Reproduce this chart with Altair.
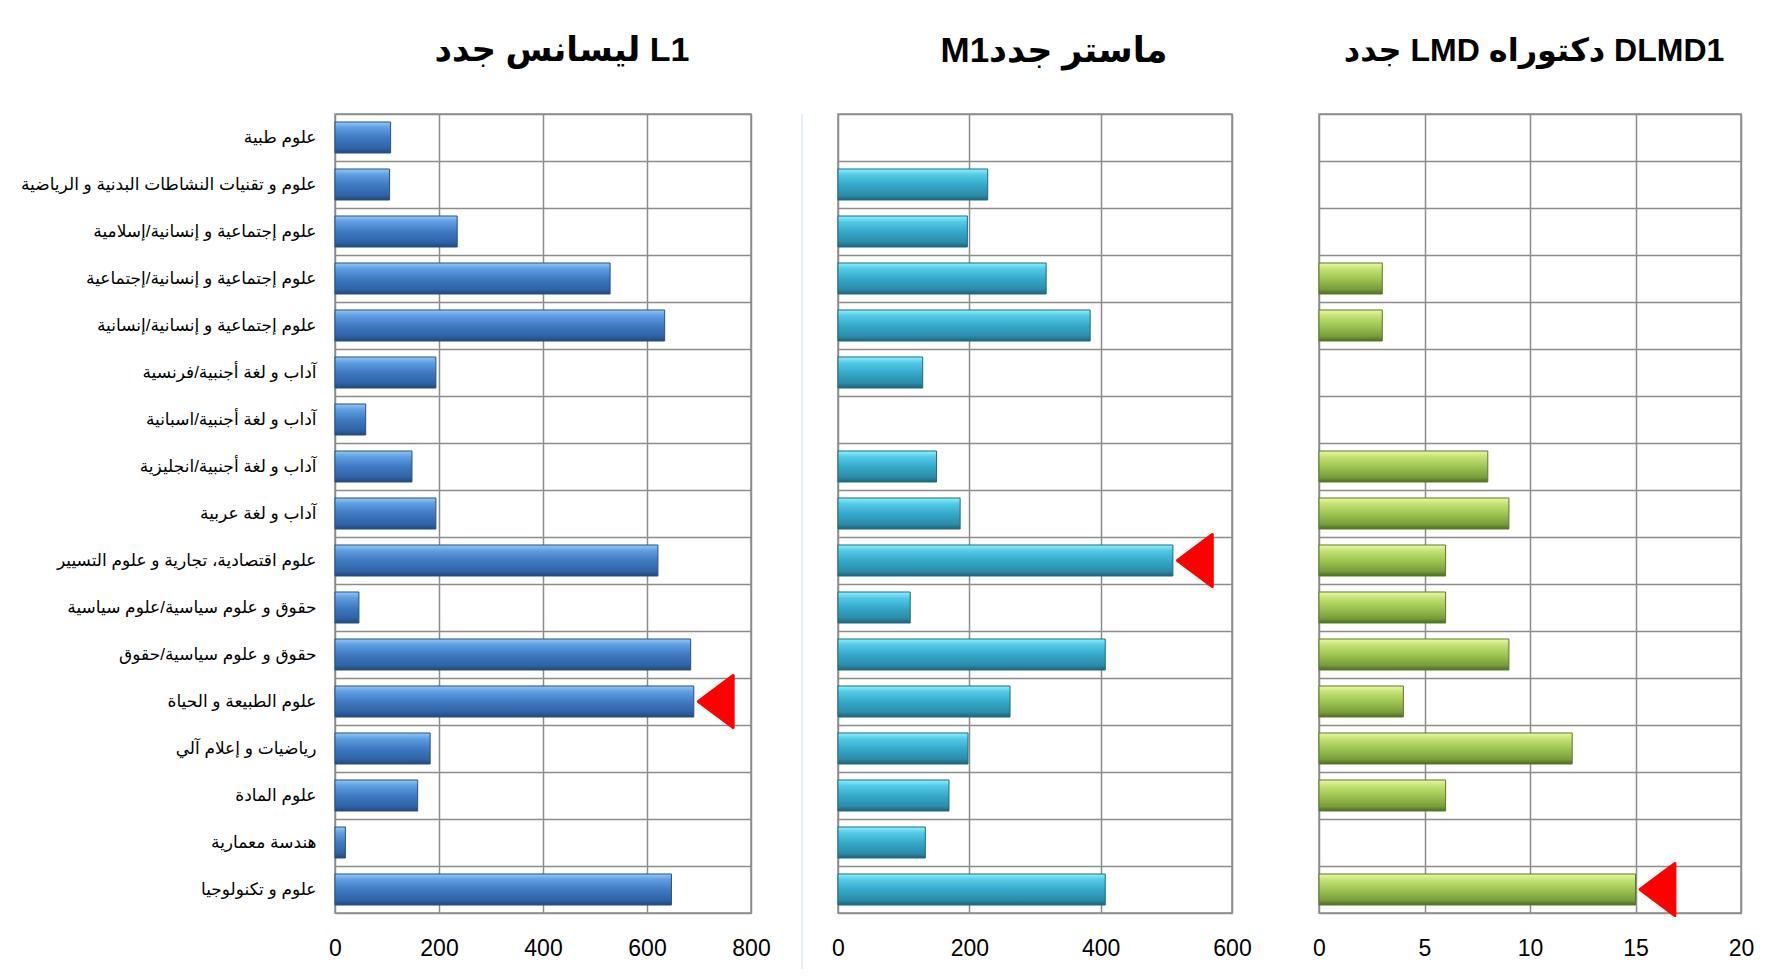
import altair as alt
import pandas as pd

categories = [
    "علوم طبية",
    "علوم و تقنيات النشاطات البدنية و الرياضية",
    "علوم إجتماعية و إنسانية/إسلامية",
    "علوم إجتماعية و إنسانية/إجتماعية",
    "علوم إجتماعية و إنسانية/إنسانية",
    "آداب و لغة أجنبية/فرنسية",
    "آداب و لغة أجنبية/اسبانية",
    "آداب و لغة أجنبية/انجليزية",
    "آداب و لغة عربية",
    "علوم اقتصادية، تجارية و علوم التسيير",
    "حقوق و علوم سياسية/علوم سياسية",
    "حقوق و علوم سياسية/حقوق",
    "علوم الطبيعة و الحياة",
    "رياضيات و إعلام آلي",
    "علوم المادة",
    "هندسة معمارية",
    "علوم و تكنولوجيا",
]
l1_values = [107, 105, 235, 529, 634, 194, 59, 148, 194, 621, 46, 684, 690, 183, 159, 20, 647]
m1_values = [0, 228, 197, 317, 384, 129, 0, 150, 186, 510, 110, 407, 262, 198, 169, 133, 407]
d_values = [0, 0, 0, 3, 3, 0, 0, 8, 9, 6, 6, 9, 4, 12, 6, 0, 15]

titles = ["ليسانس جدد  L1", "M1" + "ماستر جدد", "جدد LMD دكتوراه  DLMD1"]
l1_ticks = [0, 200, 400, 600, 800]
m1_ticks = [0, 200, 400, 600]
d_ticks = [0, 5, 10, 15, 20]
marker_cats = ["علوم الطبيعة و الحياة", "علوم اقتصادية، تجارية و علوم التسيير", "علوم و تكنولوجيا"]
marker_vals = [690, 510, 15]

FONT = "Liberation Sans, DejaVu Sans"
GRID = "#8c8c8c"

blue = alt.Gradient(gradient="linear", x1=0, x2=0, y1=0, y2=1, stops=[
    alt.GradientStop(color="#93c8f6", offset=0),
    alt.GradientStop(color="#5f9fe2", offset=0.18),
    alt.GradientStop(color="#3f7ac2", offset=0.5),
    alt.GradientStop(color="#2f62a5", offset=0.85),
    alt.GradientStop(color="#23477a", offset=1)])
cyan = alt.Gradient(gradient="linear", x1=0, x2=0, y1=0, y2=1, stops=[
    alt.GradientStop(color="#8df2ff", offset=0),
    alt.GradientStop(color="#55cbe8", offset=0.18),
    alt.GradientStop(color="#35aacb", offset=0.5),
    alt.GradientStop(color="#2b8ba8", offset=0.85),
    alt.GradientStop(color="#1f6277", offset=1)])
green = alt.Gradient(gradient="linear", x1=0, x2=0, y1=0, y2=1, stops=[
    alt.GradientStop(color="#eaf8a4", offset=0),
    alt.GradientStop(color="#c2e172", offset=0.2),
    alt.GradientStop(color="#9fc552", offset=0.5),
    alt.GradientStop(color="#789d3a", offset=0.85),
    alt.GradientStop(color="#4c6a22", offset=1)])

TRI = "M -0.67 0 L 0.67 -1 L 0.67 1 Z"


def panel(values, ticks, fill, stroke, title, dx, tsize, toffset, show_labels,
          mcat, mval, width, sep=False):
    df = pd.DataFrame({"cat": categories, "value": values})
    xdom = [ticks[0], ticks[-1]]
    if show_labels:
        yaxis = alt.Axis(title=None, labels=True, ticks=False, domain=False, grid=True,
                         tickBand="extent", gridColor=GRID, gridWidth=1.5,
                         labelFont=FONT, labelFontSize=17, labelColor="#000000",
                         labelPadding=19, labelLimit=400, minExtent=321, maxExtent=321)
    else:
        yaxis = alt.Axis(title=None, labels=False, ticks=False, domain=False, grid=True,
                         tickBand="extent", gridColor=GRID, gridWidth=1.5,
                         minExtent=0, maxExtent=0)
    yscale = alt.Scale(domain=categories, paddingInner=0, paddingOuter=0)
    xscale = alt.Scale(domain=xdom, nice=False)
    xaxis = alt.Axis(title=None, values=ticks, ticks=False, domain=False, grid=True,
                     gridColor=GRID, gridWidth=1.5, labelFont=FONT, labelFontSize=23,
                     labelColor="#000000", labelPadding=24, labelFlush=False)
    bars = alt.Chart(df).transform_filter("datum.value > 0").mark_bar(
        fill=fill, stroke=stroke, strokeWidth=1, height={"band": 0.66}
    ).encode(
        x=alt.X("value:Q", scale=xscale, axis=xaxis),
        y=alt.Y("cat:N", sort=categories, scale=yscale, axis=yaxis),
    )
    mdf = pd.DataFrame({"cat": [mcat], "value": [mval]})
    marker = alt.Chart(mdf).mark_point(
        shape=TRI, filled=True, fill="#ff0000", stroke="#ff0000", strokeWidth=3,
        strokeJoin="round", size=2700, opacity=1, xOffset=22
    ).encode(
        x=alt.X("value:Q", scale=xscale, axis=xaxis),
        y=alt.Y("cat:N", sort=categories, scale=yscale, axis=yaxis),
    )
    layers = [bars, marker]
    if sep:
        rule = alt.Chart(pd.DataFrame({"a": [0]})).mark_rule(
            color="#dde7f2", strokeWidth=1.5
        ).encode(x=alt.value(width + 51), y=alt.value(0), y2=alt.value(855))
        layers.append(rule)
    return alt.layer(*layers).properties(
        width=width, height=799,
        title=alt.TitleParams(title, fontSize=tsize, font=FONT, fontWeight="bold",
                              color="#000000", anchor="middle", dx=dx, offset=toffset),
    )


p1 = panel(l1_values, l1_ticks, blue, "#2a4f80", titles[0], 19, 34, 37, True,
           marker_cats[0], marker_vals[0], 416, sep=True)
p2 = panel(m1_values, m1_ticks, cyan, "#1f6a80", titles[1], 19, 35, 45, False,
           marker_cats[1], marker_vals[1], 394)
p3 = panel(d_values, d_ticks, green, "#5a7a2a", titles[2], 4, 32, 46, False,
           marker_cats[2], marker_vals[2], 422)

chart = alt.hconcat(p1, p2, p3, spacing=87, bounds="flush").properties(
    padding={"left": 5, "top": 25, "right": 5, "bottom": 5},
    background="#ffffff",
).configure_view(stroke=GRID, strokeWidth=1.5)

chart.save("out.html", embed_options={"renderer": "svg", "actions": False})
